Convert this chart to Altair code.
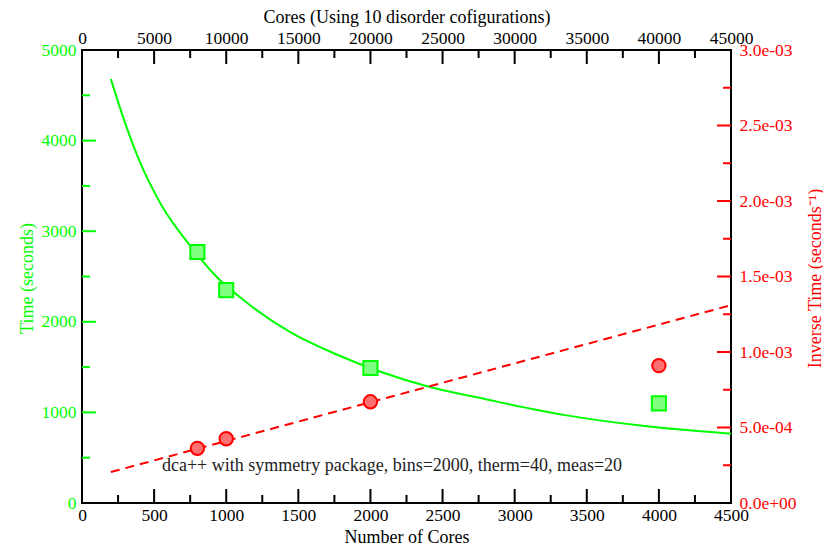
import altair as alt
import pandas as pd

# ---- data ----
cores = [800, 1000, 2000, 4000]
time_sec = [2770, 2350, 1490, 1100]
inv_time = [3.62e-4, 4.25e-4, 6.70e-4, 9.10e-4]

fit_cores = [200, 300, 400, 550, 750, 950, 1100, 1450, 1750, 2400, 2800, 3350, 3900, 4500]
fit_time = [4680, 4190, 3770, 3290, 2840, 2470, 2265, 1880, 1650, 1285, 1145, 970, 850, 765]

inv_fit_cores = [200, 4500]
inv_fit = [2.05e-4, 1.31e-3]

x_labels = [0, 500, 1000, 1500, 2000, 2500, 3000, 3500, 4000, 4500]
x_major = [500, 1000, 1500, 2000, 2500, 3000, 3500, 4000]
x_minor = [250, 750, 1250, 1750, 2250, 2750, 3250, 3750, 4250]
y_labels = [0, 1000, 2000, 3000, 4000, 5000]
y_major = [1000, 2000, 3000, 4000]
y_minor = [500, 1500, 2500, 3500, 4500]
y2_labels = [0, 5e-4, 1e-3, 1.5e-3, 2e-3, 2.5e-3, 3e-3]
y2_major = [5e-4, 1e-3, 1.5e-3, 2e-3, 2.5e-3]
y2_minor = [2.5e-4, 7.5e-4, 1.25e-3, 1.75e-3, 2.25e-3, 2.75e-3]

note_text = ["dca++ with symmetry package, bins=2000, therm=40, meas=20"]
note_x = [554]
note_y = [408]

GREEN = "#00ff00"
RED = "#ff0000"
SERIF = "Liberation Serif"
W, H = 649, 453
MAJ, MIN = 14, 8
LFS, TFS = 17.5, 18

xs = alt.Scale(domain=[0, 4500], nice=False, zero=False)
ys = alt.Scale(domain=[0, 5000], nice=False)
y2s = alt.Scale(domain=[0, 0.003], nice=False)

pts = pd.DataFrame({"cores": cores, "time": time_sec, "inv": inv_time})
fit = pd.DataFrame({"cores": fit_cores, "time": fit_time})
ifit = pd.DataFrame({"cores": inv_fit_cores, "inv": inv_fit})
note = pd.DataFrame({"x": note_x, "y": note_y, "t": note_text})

common_axis = dict(ticks=False, domain=False, grid=False, labelFont=SERIF,
                   labelFontSize=LFS, titleFont=SERIF, titleFontSize=TFS,
                   titleFontWeight="normal", labelFlush=False, labelOverlap=False)

x_bottom = alt.Axis(orient="bottom", values=x_labels, format="d", title="Number of Cores",
                    labelColor="black", titleColor="black", labelPadding=3,
                    titleX=W / 2, titleY=39, titleBaseline="alphabetic", titleAlign="center",
                    **common_axis)
x_top = alt.Axis(orient="top", values=x_labels, labelExpr="format(datum.value*10,'d')",
                 title="Cores (Using 10 disorder cofigurations)",
                 labelColor="black", titleColor="black", labelPadding=3,
                 titleX=W / 2, titleY=-33, titleBaseline="middle", titleAlign="center",
                 **common_axis)
y_left = alt.Axis(orient="left", values=y_labels, format="d", title="Time (seconds)",
                  labelColor=GREEN, titleColor=GREEN, labelPadding=6,
                  titleX=-55, titleY=228, titleAngle=270, titleBaseline="middle",
                  titleAlign="center",
                  **common_axis)
y_right = alt.Axis(orient="right", values=y2_labels,
                   labelExpr="substring(format(datum.value,'.1e'),0,length(format(datum.value,'.1e'))-1) + '0' + substring(format(datum.value,'.1e'),length(format(datum.value,'.1e'))-1)",
                   title="Inverse Time (seconds⁻¹)",
                   labelColor=RED, titleColor=RED, labelPadding=8,
                   titleX=84, titleY=228, titleAngle=270, titleBaseline="middle",
                   titleAlign="center",
                   **common_axis)


def vticks(vals, y0, y1, xaxis, color="black"):
    return alt.Chart(pd.DataFrame({"v": vals})).mark_rule(color=color, strokeWidth=2).encode(
        x=alt.X("v:Q", scale=xs, axis=xaxis), y=alt.value(y0), y2=alt.value(y1))


def hticks(vals, scale, yaxis, x0, x1, color):
    return alt.Chart(pd.DataFrame({"v": vals})).mark_rule(color=color, strokeWidth=2).encode(
        y=alt.Y("v:Q", scale=scale, axis=yaxis), x=alt.value(x0), x2=alt.value(x1))


# ---- green (time) layers ----
g_line = alt.Chart(fit).mark_line(color=GREEN, strokeWidth=2, interpolate="monotone").encode(
    x=alt.X("cores:Q", scale=xs, axis=x_bottom),
    y=alt.Y("time:Q", scale=ys, axis=y_left),
)
g_pts = alt.Chart(pts).mark_square(size=200, fill="#80ff80", stroke=GREEN,
                                   strokeWidth=2, opacity=1).encode(
    x=alt.X("cores:Q", scale=xs, axis=x_bottom),
    y=alt.Y("time:Q", scale=ys, axis=y_left),
)
g_note = alt.Chart(note).mark_text(align="left", baseline="middle", font=SERIF,
                                   fontSize=TFS, color="#222222").encode(
    x=alt.X("x:Q", scale=xs, axis=x_bottom),
    y=alt.Y("y:Q", scale=ys, axis=y_left),
    text="t:N",
)

green = alt.layer(
    g_line,
    vticks(x_major, H, H - MAJ, x_bottom), vticks(x_minor, H, H - MIN, x_bottom),
    vticks(x_major, 0, MAJ, x_bottom), vticks(x_minor, 0, MIN, x_bottom),
    hticks(y_major, ys, y_left, 0, MAJ, GREEN), hticks(y_minor, ys, y_left, 0, MIN, GREEN),
    g_pts, g_note,
)

# ---- red (inverse time) layers ----
r_line = alt.Chart(ifit).mark_line(color=RED, strokeWidth=2, strokeDash=[9, 6]).encode(
    x=alt.X("cores:Q", scale=xs, axis=x_top),
    y=alt.Y("inv:Q", scale=y2s, axis=y_right),
)
r_pts = alt.Chart(pts).mark_circle(size=180, fill="#ff7070", stroke=RED,
                                   strokeWidth=2, opacity=1).encode(
    x=alt.X("cores:Q", scale=xs, axis=x_top),
    y=alt.Y("inv:Q", scale=y2s, axis=y_right),
)
red = alt.layer(
    r_line,
    hticks(y2_major, y2s, y_right, W, W - MAJ, RED),
    hticks(y2_minor, y2s, y_right, W, W - MIN, RED),
    r_pts,
)

chart = alt.layer(green, red).resolve_scale(y="independent").resolve_axis(
    x="independent", y="independent"
).properties(
    width=W, height=H,
    autosize=alt.AutoSizeParams(type="none"),
    padding={"left": 74, "top": 42, "right": 92, "bottom": 42},
    background="white",
).configure_view(stroke="black", strokeWidth=2)

chart.save("out.html", embed_options={"renderer": "svg", "actions": False})
